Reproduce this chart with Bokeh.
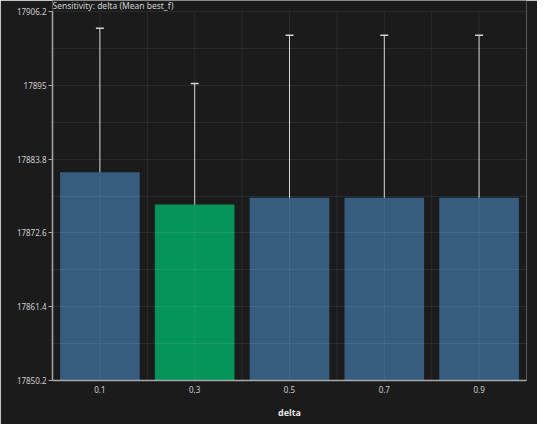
from bokeh.plotting import figure
from bokeh.models import ColumnDataSource, FixedTicker, Range1d, Whisker, TeeHead, Label
from bokeh.embed import file_html
from bokeh.resources import INLINE

# data
deltas = [0.1, 0.3, 0.5, 0.7, 0.9]
delta_labels = ["0.1", "0.3", "0.5", "0.7", "0.9"]
mean_best_f = [17881.8, 17876.9, 17877.95, 17877.95, 17877.95]
err_half = [21.84, 18.38, 24.65, 24.65, 24.65]
bar_colors = ["#365c80", "#05955a", "#365c80", "#365c80", "#365c80"]
y_ticks = [17850.2, 17861.4, 17872.6, 17883.8, 17895.0, 17906.2]
y_tick_labels = ["17850.2", "17861.4", "17872.6", "17883.8", "17895", "17906.2"]
y_minor = [17855.8, 17867.0, 17878.2, 17889.4, 17900.6]
x_minor = [0.0, 0.2, 0.4, 0.6, 0.8, 1.0]
title_text = "Sensitivity: delta (Mean best_f)"

BG = "#1b1b1b"
FONT = "Noto Sans"
GRID = "white"
GRID_ALPHA = 0.07

# layout (pixels)
W, H = 537, 424
B_LEFT, B_RIGHT, B_BOTTOM = 52, 11, 44
TITLE_SPACE = 11          # room above the value axis for the title
axis_px = H - B_BOTTOM - TITLE_SPACE
y_lo, y_hi = y_ticks[0], y_ticks[-1]
y_end = y_hi + (y_hi - y_lo) * TITLE_SPACE / axis_px

src = ColumnDataSource(dict(
    x=deltas,
    top=mean_best_f,
    upper=[m + e for m, e in zip(mean_best_f, err_half)],
    lower=[m - e for m, e in zip(mean_best_f, err_half)],
    color=bar_colors,
))
vx = sorted(x_minor + deltas)
gsrc = ColumnDataSource(dict(x0=vx, x1=vx, y0=[y_lo] * len(vx), y1=[y_hi] * len(vx)))

p = figure(width=W, height=H, output_backend="svg", toolbar_location=None,
           x_range=Range1d(0, 1), y_range=Range1d(y_lo, y_end),
           min_border_left=B_LEFT, min_border_right=B_RIGHT,
           min_border_top=0, min_border_bottom=B_BOTTOM)

p.background_fill_color = BG
p.border_fill_color = BG
p.outline_line_color = None

p.vbar(x="x", top="top", bottom=y_lo, width=0.168, source=src,
       fill_color="color", line_color=None)

# vertical grid lines, limited to the value axis extent
p.segment(x0="x0", y0="y0", x1="x1", y1="y1", source=gsrc,
          line_color=GRID, line_alpha=GRID_ALPHA, line_width=1)

wh = Whisker(base="x", upper="upper", lower="lower", source=src,
             line_color="#d2d2d2", line_width=1,
             upper_head=TeeHead(size=8, line_color="#d2d2d2", line_width=1.5),
             lower_head=TeeHead(size=8, line_color="#d2d2d2", line_width=1.5))
p.add_layout(wh)

title = Label(x=0, y=y_hi, x_offset=0, y_offset=1, text=title_text,
              text_baseline="bottom", text_align="left",
              text_color="#d0d0d0", text_font=FONT, text_font_size="8.5px")
p.add_layout(title)

# x axis
p.xaxis.ticker = FixedTicker(ticks=deltas, minor_ticks=x_minor)
p.xaxis.major_label_overrides = {d: l for d, l in zip(deltas, delta_labels)}
p.xaxis.axis_label = "delta"
p.xaxis.axis_label_text_font = FONT
p.xaxis.axis_label_text_font_style = "bold"
p.xaxis.axis_label_text_font_size = "9px"
p.xaxis.axis_label_text_color = "#e6e6e6"
p.xaxis.axis_label_standoff = 10
p.xaxis.major_tick_out = 0
p.xaxis.major_tick_in = 0
p.xaxis.minor_tick_out = 0
p.xaxis.minor_tick_in = 0
p.xaxis.major_label_standoff = 5

# y axis
p.yaxis.ticker = FixedTicker(ticks=y_ticks, minor_ticks=y_minor)
p.yaxis.major_label_overrides = {t: l for t, l in zip(y_ticks, y_tick_labels)}
p.yaxis.bounds = (y_lo, y_hi)
p.yaxis.major_tick_out = 4
p.yaxis.major_tick_in = 0
p.yaxis.minor_tick_out = 0
p.yaxis.minor_tick_in = 0
p.yaxis.major_label_standoff = 2

for ax in (p.xaxis, p.yaxis):
    ax.axis_line_color = "#a8a8a8"
    ax.axis_line_width = 1.5
    ax.major_tick_line_color = "#a8a8a8"
    ax.major_label_text_color = "#cfcfcf"
    ax.major_label_text_font = FONT
    ax.major_label_text_font_size = "8px"

p.xgrid.visible = False
p.ygrid.level = "overlay"
p.ygrid.grid_line_color = GRID
p.ygrid.grid_line_alpha = GRID_ALPHA
p.ygrid.minor_grid_line_color = GRID
p.ygrid.minor_grid_line_alpha = GRID_ALPHA

open("out.html", "w").write(file_html(p, INLINE))
